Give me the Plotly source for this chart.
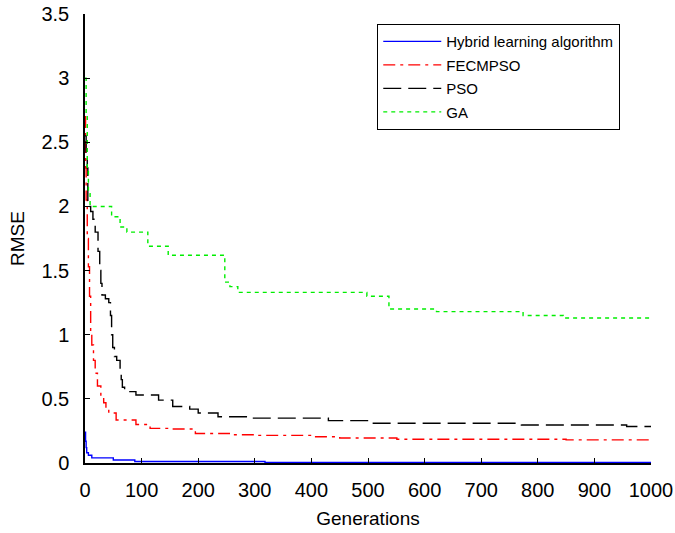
import plotly.graph_objects as go

# ---- data ----
hyb_gen = [0, 1, 2, 3, 6, 12, 50, 88, 318, 1000]
hyb_val = [0.24, 0.17, 0.12, 0.08, 0.06, 0.04, 0.023, 0.012, 0.005, 0.005]

fec_gen = [0, 1, 2, 4, 6, 8, 10, 12, 15, 18, 22, 28, 33, 37, 42, 55, 90, 115, 150,
           195, 255, 300, 400, 450, 551, 850, 1000]
fec_val = [2.7, 2.3, 2.05, 1.75, 1.53, 1.3, 1.0, 0.92, 0.8, 0.7, 0.6, 0.52, 0.47, 0.42,
           0.39, 0.335, 0.30, 0.27, 0.265, 0.23, 0.22, 0.215, 0.205, 0.195, 0.185, 0.18, 0.175]

pso_gen = [0, 2, 4, 5, 10, 14, 18, 23, 26, 28, 30, 36, 42, 45, 47, 49, 52, 56, 62, 64,
           66, 70, 90, 130, 155, 185, 200, 235, 290, 430, 503, 771, 957, 1000]
pso_val = [2.55, 2.4, 2.3, 2.0, 1.96, 1.9, 1.8, 1.65, 1.5, 1.4, 1.31, 1.28, 1.25, 1.15,
           1.0, 0.9, 0.83, 0.8, 0.72, 0.65, 0.59, 0.556, 0.53, 0.49, 0.44, 0.42, 0.39,
           0.36, 0.35, 0.33, 0.31, 0.296, 0.285, 0.285]

ga_gen = [0, 2, 4, 6, 9, 47, 62, 74, 111, 147, 247, 256, 270, 498, 537, 621, 774, 845, 1000]
ga_val = [3.0, 2.7, 2.3, 2.1, 2.0, 1.92, 1.84, 1.80, 1.69, 1.62, 1.41, 1.375, 1.33,
          1.30, 1.20, 1.18, 1.15, 1.13, 1.13]

names = ["Hybrid learning algorithm", "FECMPSO", "PSO", "GA"]
x_ticks = [0, 100, 200, 300, 400, 500, 600, 700, 800, 900, 1000]
y_ticks = [0, 0.5, 1, 1.5, 2, 2.5, 3, 3.5]

series = [
    (hyb_gen, hyb_val, "#0000ff", "solid"),
    (fec_gen, fec_val, "#ff0000", "12px,5px,3px,5px"),
    (pso_gen, pso_val, "#000000", "18px,7px"),
    (ga_gen, ga_val, "#00ee00", "4px,4px"),
]

fig = go.Figure()
for i, (gx, gy, col, dash) in enumerate(series):
    fig.add_trace(go.Scatter(
        x=gx, y=gy, mode="lines", name=names[i], legendgroup=f"g{i}",
        line=dict(color=col, width=1.4, dash=dash, shape="hv"),
    ))

axis_common = dict(
    showgrid=False, zeroline=False, showline=True, linecolor="black", linewidth=1.5,
    ticks="inside", ticklen=5, tickcolor="black", tickwidth=1.2, automargin=False,
    tickfont=dict(family="Liberation Sans, Arial", size=20, color="black"),
)

fig.update_layout(
    width=675, height=533,
    margin=dict(l=85, r=24, t=14, b=70),
    paper_bgcolor="white", plot_bgcolor="white",
    font=dict(family="Liberation Sans, Arial", color="black"),
    xaxis=dict(range=[0, 1000], tickvals=x_ticks, ticktext=[str(v) for v in x_ticks],
               ticklabelstandoff=8,
               title=dict(text="Generations", font=dict(size=19), standoff=12),
               **axis_common),
    yaxis=dict(range=[0, 3.5], tickvals=y_ticks, ticktext=[f"{v:g}" for v in y_ticks],
               ticklabelstandoff=10,
               title=dict(text="RMSE", font=dict(size=19), standoff=12),
               **axis_common),
    legend=dict(x=0.516, y=0.978, xanchor="left", yanchor="top",
                bordercolor="black", borderwidth=1.2, bgcolor="white",
                font=dict(size=15, color="black"), itemwidth=58,
                tracegroupgap=1, traceorder="grouped"),
    showlegend=True,
)

fig.write_html(
    "out.html",
    config={"displayModeBar": False},
    post_script="document.body.style.margin='0';document.body.style.overflow='hidden';",
)
